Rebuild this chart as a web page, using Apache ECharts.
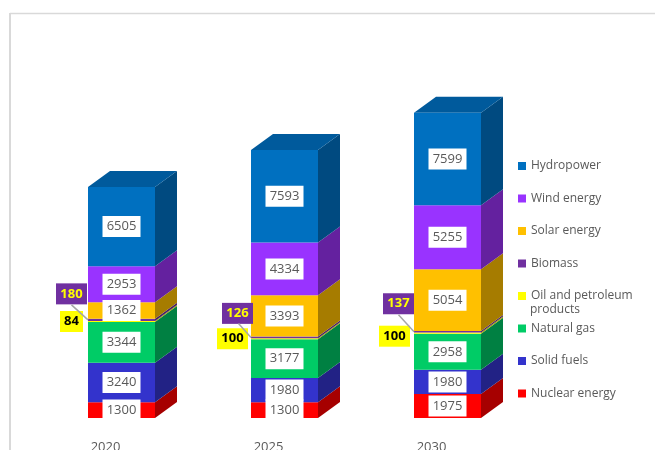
<!DOCTYPE html>
<html><head><meta charset="utf-8">
<style>html,body{margin:0;padding:0;background:#fff;overflow:hidden}#c{width:655px;height:450px}</style>
<script src="https://cdn.jsdelivr.net/npm/echarts@6/dist/echarts.min.js"></script>
</head><body><div id="c"></div>
<script>
const years = ['2020', '2025', '2030'];
const seriesNames = ['Nuclear energy', 'Solid fuels', 'Natural gas', 'Oil and petroleum products', 'Biomass', 'Solar energy', 'Wind energy', 'Hydropower'];
const nuclear = [1300, 1300, 1975];
const solid = [3240, 1980, 1980];
const gas = [3344, 3177, 2958];
const oil = [84, 100, 100];
const biomass = [180, 126, 137];
const solar = [1362, 3393, 5054];
const wind = [2953, 4334, 5255];
const hydro = [6505, 7593, 7599];
const frontColors = ['#ff0000', '#3333cc', '#00cc66', '#ffff00', '#7030a0', '#ffc000', '#9933ff', '#0070c0'];
const sideColors = ['#a60000', '#222285', '#008042', '#a6a600', '#4a2069', '#a67c00', '#64219f', '#004a80'];
const topColor = '#005a9c';

const allValues = [nuclear, solid, gas, oil, biomass, solar, wind, hydro];
const FONT = '"Open Sans", sans-serif';
const BAR_W = 67, DX = 22, DY = 16;
const smallOffsets = {
  3: [[-50, 0], [-52, 0], [-53, 3]],
  4: [[-50, -26], [-47, -24], [-49, -28]]
};
const leaderStart = [[-50, -15], [-46, -14], [-49, -17]];

const bars = seriesNames.map((name, s) => ({
  name, type: 'bar', stack: 'total', barWidth: BAR_W,
  itemStyle: { color: frontColors[s] },
  data: allValues[s].map((v, i) => {
    let label;
    if (s === 3 || s === 4) {
      label = {
        show: true, position: 'inside', offset: smallOffsets[s][i],
        fontFamily: FONT, fontSize: 13, fontWeight: 'bold',
        color: s === 3 ? '#000' : '#ffff00',
        backgroundColor: s === 3 ? '#ffff00' : '#7030a0',
        width: s === 3 ? (v < 100 ? 23 : 31) : 31, height: 21, lineHeight: 21, align: 'center'
      };
    } else {
      label = {
        show: true, position: 'inside',
        fontFamily: FONT, fontSize: 13, color: '#595959',
        backgroundColor: '#fff', width: 38, height: 21, lineHeight: 21, align: 'center'
      };
    }
    return { value: v, label };
  })
}));

const depthRows = [];
years.forEach((y, i) => {
  let low = 0;
  allValues.forEach((arr, s) => {
    depthRows.push([i, low, low + arr[i], s]);
    low += arr[i];
  });
});

const depth = {
  type: 'custom', name: 'depth', silent: true,
  data: depthRows, encode: { x: 0, y: [1, 2] },
  renderItem(params, api) {
    const cat = api.value(0), s = api.value(3);
    const p0 = api.coord([cat, api.value(1)]), p1 = api.coord([cat, api.value(2)]);
    const r = p0[0] + BAR_W / 2, l = p0[0] - BAR_W / 2;
    const children = [{
      type: 'polygon',
      shape: { points: [[r, p0[1]], [r + DX, p0[1] - DY], [r + DX, p1[1] - DY], [r, p1[1]]] },
      style: { fill: sideColors[s] }
    }];
    if (s === seriesNames.length - 1) {
      children.push({
        type: 'polygon',
        shape: { points: [[l, p1[1]], [l + DX, p1[1] - DY], [r + DX, p1[1] - DY], [r, p1[1]]] },
        style: { fill: topColor }
      });
    }
    return { type: 'group', children };
  }
};

const leaders = {
  type: 'custom', name: 'leaders', silent: true, z: 3,
  data: years.map((y, i) => [i, nuclear[i] + solid[i] + gas[i] + oil[i] + biomass[i] / 2]),
  encode: { x: 0, y: 1 },
  renderItem(params, api) {
    const i = api.value(0);
    const p = api.coord([i, api.value(1)]);
    return {
      type: 'line',
      shape: { x1: p[0] - BAR_W / 2, y1: p[1], x2: p[0] + leaderStart[i][0], y2: p[1] + leaderStart[i][1] },
      style: { stroke: '#a6a6a6', lineWidth: 1.5 }
    };
  }
};

const chart = echarts.init(document.getElementById('c'), null, { renderer: 'canvas' });
chart.setOption({
  animation: false,
  backgroundColor: '#fff',
  grid: { left: 40, width: 489, top: 77, height: 341, outerBoundsMode: 'none' },
  xAxis: {
    type: 'category', data: years,
    axisLine: { show: false }, axisTick: { show: false },
    axisLabel: { margin: 23, fontFamily: FONT, fontSize: 13, color: '#595959', padding: [0, 32, 0, 0] }
  },
  yAxis: { type: 'value', min: 0, max: 28000, show: false },
  legend: {
    orient: 'vertical', left: 518, top: 160, padding: 0, itemGap: 20.5,
    itemWidth: 8, itemHeight: 8, icon: 'rect',
    data: seriesNames.slice().reverse(),
    selectedMode: false,
    formatter: n => n === 'Oil and petroleum products' ? 'Oil and petroleum' : n,
    textStyle: { fontFamily: FONT, fontSize: 12, color: '#595959' }
  },
  graphic: [
    { type: 'line', silent: true, shape: { x1: 10, y1: 13.5, x2: 655, y2: 13.5 }, style: { stroke: '#d9d9d9', lineWidth: 1.5 } },
    { type: 'line', silent: true, shape: { x1: 10, y1: 13, x2: 10, y2: 450 }, style: { stroke: '#d9d9d9', lineWidth: 2 } },
    { type: 'text', silent: true, left: 530, top: 304, style: { text: 'products', fontFamily: FONT, fontSize: 12, fill: '#595959' } }
  ],
  series: [depth].concat(bars, [leaders])
});
</script></body></html>
